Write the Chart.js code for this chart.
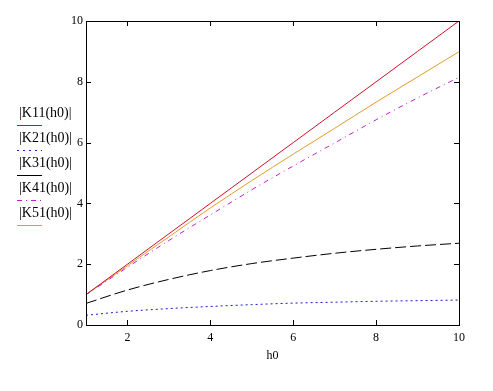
<!DOCTYPE html>
<html lang="en">
<head>
  <meta charset="UTF-8" />
  <title>|K(h0)| plot</title>
  <script src="https://cdn.jsdelivr.net/npm/chart.js"></script>
  <style>
    body { margin: 0; background: #fff; }
    #wrap { width: 493px; height: 391px; }
  </style>
</head>
<body>
  <div id="wrap"><canvas id="kChart" width="493" height="391"></canvas></div>

  <script>
    // values
    const h0 = [1, 2, 3, 4, 5, 6, 7, 8, 9, 10];
    const k11 = [1, 2, 3, 4, 5, 6, 7, 8, 9, 10];
    const k21 = [0.32, 0.45, 0.54, 0.61, 0.67, 0.72, 0.75, 0.78, 0.80, 0.82];
    const k31 = [0.71, 1.15, 1.50, 1.79, 2.02, 2.20, 2.36, 2.49, 2.60, 2.69];
    const k41 = [1.00, 1.90, 2.78, 3.62, 4.45, 5.23, 5.99, 6.75, 7.47, 8.15];
    const k51 = [1.00, 1.95, 2.90, 3.85, 4.75, 5.62, 6.47, 7.33, 8.16, 8.99];

    const xTicks = [2, 4, 6, 8, 10];
    const yTicks = [0, 2, 4, 6, 8, 10];
    const labels = ['|K11(h0)|', '|K21(h0)|', '|K31(h0)|', '|K41(h0)|', '|K51(h0)|'];

    const serif = '"Liberation Serif", "DejaVu Serif", serif';

    function pts(ys) {
      return h0.map((x, i) => ({x: x, y: ys[i]}));
    }

    const series = [
      {data: k11, color: '#d0102a', dash: [], legendDash: []},
      {data: k21, color: '#1a1acc', dash: [2, 3], legendDash: [2, 4]},
      {data: k31, color: '#000000', dash: [11, 4], legendDash: []},
      {data: k41, color: '#c020c8', dash: [5, 4, 1, 4], legendDash: [5, 4, 1, 4]},
      {data: k51, color: '#e39a2c', dash: [], legendDash: []}
    ];

    // frame, inward ticks, axis title and the left-hand legend
    const decor = {
      id: 'decor',
      afterDraw(chart) {
        const ctx = chart.ctx;
        const a = chart.chartArea;
        const xs = chart.scales.x, ys = chart.scales.y;
        ctx.save();
        ctx.strokeStyle = '#000';
        ctx.lineWidth = 1;
        ctx.setLineDash([]);
        ctx.strokeRect(Math.round(a.left) + 0.5, Math.round(a.top) + 0.5,
          Math.round(a.right - a.left), Math.round(a.bottom - a.top));
        ctx.beginPath();
        xTicks.forEach(v => {
          const px = Math.round(xs.getPixelForValue(v)) + 0.5;
          ctx.moveTo(px, a.bottom); ctx.lineTo(px, a.bottom - 5);
          ctx.moveTo(px, a.top); ctx.lineTo(px, a.top + 5);
        });
        yTicks.forEach(v => {
          const py = Math.round(ys.getPixelForValue(v)) + 0.5;
          ctx.moveTo(a.left, py); ctx.lineTo(a.left + 5, py);
          ctx.moveTo(a.right, py); ctx.lineTo(a.right - 5, py);
        });
        ctx.stroke();

        ctx.fillStyle = '#000';
        ctx.font = '12px ' + serif;
        ctx.textAlign = 'center';
        ctx.textBaseline = 'middle';
        ctx.fillText('h0', (a.left + a.right) / 2, 356);

        ctx.font = '14px ' + serif;
        ctx.textAlign = 'left';
        labels.forEach((t, i) => {
          const y = 113 + 25 * i;
          ctx.fillStyle = '#000';
          ctx.fillText(t, 19, y);
          const s = series[i];
          ctx.strokeStyle = s.color;
          ctx.setLineDash(s.legendDash);
          ctx.beginPath();
          ctx.moveTo(17, Math.round(y + 12) + 0.5);
          ctx.lineTo(42, Math.round(y + 12) + 0.5);
          ctx.stroke();
        });
        ctx.restore();
      }
    };

    new Chart(document.getElementById('kChart'), {
      type: 'line',
      data: {
        datasets: series.map((s, i) => ({
          label: labels[i],
          data: pts(s.data),
          borderColor: s.color,
          borderWidth: 1,
          borderDash: s.dash,
          pointRadius: 0,
          fill: false,
          cubicInterpolationMode: 'monotone'
        }))
      },
      options: {
        responsive: false,
        animation: false,
        devicePixelRatio: 1,
        layout: {padding: {top: 21, right: 34, bottom: 0, left: 0}},
        plugins: {legend: {display: false}, tooltip: {enabled: false}},
        scales: {
          x: {
            type: 'linear',
            min: 1, max: 10,
            afterBuildTicks: s => { s.ticks = xTicks.map(v => ({value: v})); },
            afterFit: s => { s.height = 66; },
            grid: {display: false, drawTicks: false},
            border: {display: false},
            ticks: {color: '#000', font: {family: serif, size: 12}, padding: 6, maxRotation: 0}
          },
          y: {
            min: 0, max: 10,
            afterBuildTicks: s => { s.ticks = yTicks.map(v => ({value: v})); },
            afterFit: s => { s.width = 86; },
            grid: {display: false, drawTicks: false},
            border: {display: false},
            ticks: {color: '#000', font: {family: serif, size: 12}, padding: 3}
          }
        }
      },
      plugins: [decor]
    });
  </script>
</body>
</html>
